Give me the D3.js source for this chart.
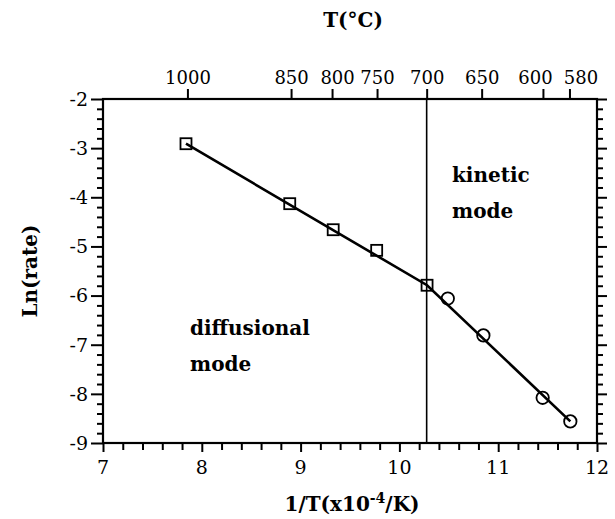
<!DOCTYPE html>
<html><head><meta charset="utf-8">
<script src="https://cdn.jsdelivr.net/npm/d3@7"></script>
<style>body{margin:0;background:#fff}svg{display:block}</style>
</head><body>
<script>
// Data
const squareX = [7.84, 8.89, 9.33, 9.77, 10.28];
const squareY = [-2.91, -4.13, -4.66, -5.08, -5.79];
const circleX = [10.49, 10.85, 11.45, 11.73];
const circleY = [-6.06, -6.81, -8.08, -8.56];
const fitX = [7.84, 10.28, 11.73];
const fitY = [-2.91, -5.79, -8.56];
const bottomTicks = [7, 8, 9, 10, 11, 12];
const leftTicks = [-2, -3, -4, -5, -6, -7, -8, -9];
const topTempC = [1000, 850, 800, 750, 700, 650, 600, 580];
const boundaryTempC = 700;

const W = 615, H = 519;
const svg = d3.select("body").append("svg").attr("width", W).attr("height", H);
const x = d3.scaleLinear().domain([7, 12]).range([103, 597]);
const y = d3.scaleLinear().domain([-9, -2]).range([443, 99]);
const inv = c => 1e4 / (c + 273.15);
const font = "DejaVu Serif";
const labelNudge = {800: 5, 600: -8, 580: 11};

// bottom axis
const gB = svg.append("g").attr("transform", `translate(0,${y(-9)})`);
gB.call(d3.axisBottom(x).tickValues(d3.range(7, 12.001, 0.2)).tickSize(7).tickFormat(""));
gB.selectAll(".tick line").filter(d => Math.abs(d - Math.round(d)) < 1e-6).attr("y2", 9);
bottomTicks.forEach(v => gB.append("text").attr("x", x(v)).attr("y", 31).attr("text-anchor", "middle")
  .attr("fill", "#000").attr("font-family", font).attr("font-size", 19).text(v));

// top axis
const gT = svg.append("g").attr("transform", `translate(0,${y(-2)})`);
gT.call(d3.axisTop(x).tickValues(topTempC.map(inv)).tickSize(10).tickFormat((d, i) => topTempC[i]));
gT.selectAll(".tick text").attr("font-family", font).attr("font-size", 18).attr("fill", "#000").attr("dy", "-0.1em")
  .attr("dx", (d, i) => labelNudge[topTempC[i]] || 0);

// left axis
const gL = svg.append("g").attr("transform", `translate(${x(7)},0)`);
gL.call(d3.axisLeft(y).tickValues(d3.range(-9, -1.999, 0.2)).tickSize(6).tickFormat(""));
gL.selectAll(".tick line").filter(d => Math.abs(d - Math.round(d)) < 1e-6).attr("x2", -12);
leftTicks.forEach(v => gL.append("text").attr("x", -15).attr("y", y(v)).attr("dy", "0.36em").attr("text-anchor", "end")
  .attr("fill", "#000").attr("font-family", font).attr("font-size", 19).text(v));

// right axis
const gR = svg.append("g").attr("transform", `translate(${x(12)},0)`);
gR.call(d3.axisRight(y).tickValues(d3.range(-9, -1.999, 0.2)).tickSize(6).tickFormat(""));
gR.selectAll(".tick line").filter(d => Math.abs(d - Math.round(d)) < 1e-6).attr("x2", 10);

svg.selectAll(".tick line").attr("stroke-width", 2);
svg.selectAll("path.domain").remove();
svg.append("rect").attr("x", x(7)).attr("y", y(-2)).attr("width", x(12) - x(7)).attr("height", y(-9) - y(-2))
  .attr("fill", "none").attr("stroke", "#000").attr("stroke-width", 2.2);

// boundary line
svg.append("line").attr("x1", x(inv(boundaryTempC))).attr("x2", x(inv(boundaryTempC)))
  .attr("y1", y(-2)).attr("y2", y(-9)).attr("stroke", "#000").attr("stroke-width", 1.6);

// fit line
svg.append("path").datum(fitX.map((v, i) => [v, fitY[i]]))
  .attr("d", d3.line().x(d => x(d[0])).y(d => y(d[1])))
  .attr("fill", "none").attr("stroke", "#000").attr("stroke-width", 2.6);

// squares
const s = 11;
svg.selectAll("rect.sq").data(squareX.map((v, i) => [v, squareY[i]])).enter().append("rect")
  .attr("x", d => x(d[0]) - s / 2).attr("y", d => y(d[1]) - s / 2).attr("width", s).attr("height", s)
  .attr("fill", "none").attr("stroke", "#000").attr("stroke-width", 1.8);
// circles
svg.selectAll("circle.ci").data(circleX.map((v, i) => [v, circleY[i]])).enter().append("circle")
  .attr("cx", d => x(d[0])).attr("cy", d => y(d[1])).attr("r", 6.2)
  .attr("fill", "none").attr("stroke", "#000").attr("stroke-width", 1.8);

// titles
const bold = (t, xx, yy, size) => svg.append("text").attr("x", xx).attr("y", yy).attr("font-family", font)
  .attr("font-weight", "bold").attr("font-size", size).text(t);
bold("T(°C)", 353, 27, 20).attr("text-anchor", "middle");
const xt = svg.append("text").attr("x", 352).attr("y", 511).attr("text-anchor", "middle")
  .attr("font-family", font).attr("font-weight", "bold").attr("font-size", 20);
xt.append("tspan").text("1/T(x10");
xt.append("tspan").attr("dy", -8).attr("font-size", 14).text("-4");
xt.append("tspan").attr("dy", 8).text("/K)");
svg.append("text").attr("transform", "translate(37,271) rotate(-90)").attr("text-anchor", "middle")
  .attr("font-family", font).attr("font-weight", "bold").attr("font-size", 20).text("Ln(rate)");

bold("kinetic", 452, 182, 20);
bold("mode", 452, 218, 20);
bold("diffusional", 190, 335, 20);
bold("mode", 190, 371, 20);
</script>
</body></html>
